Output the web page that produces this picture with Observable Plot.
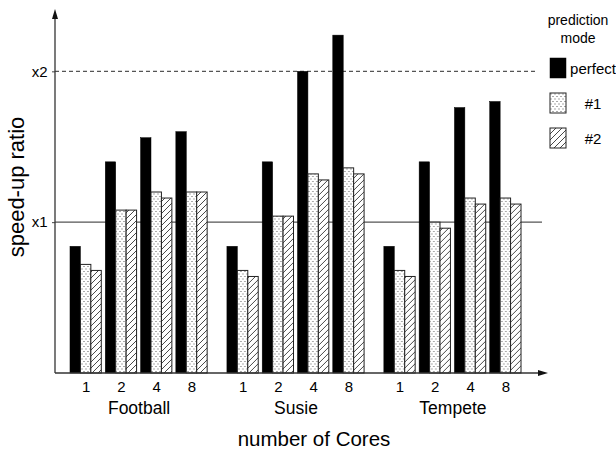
<!DOCTYPE html>
<html><head><meta charset="utf-8">
<script src="https://cdn.jsdelivr.net/npm/d3@7"></script>
<script src="https://cdn.jsdelivr.net/npm/@observablehq/plot@0.6"></script>
<style>body{margin:0;background:#fff}</style>
</head><body><div id="chart"></div>
<script>
const datasets = ["Football", "Susie", "Tempete"];
const cores = ["1", "2", "4", "8"];
const modes = ["perfect", "#1", "#2"];
// values per dataset, cores 1,2,4,8
const perfect = [0.84, 1.40, 1.56, 1.60,  0.84, 1.40, 2.00, 2.24,  0.84, 1.40, 1.76, 1.80];
const mode1   = [0.72, 1.08, 1.20, 1.20,  0.68, 1.04, 1.32, 1.36,  0.68, 1.00, 1.16, 1.16];
const mode2   = [0.68, 1.08, 1.16, 1.20,  0.64, 1.04, 1.28, 1.32,  0.64, 0.96, 1.12, 1.12];
const yTicks = [1, 2];
const yTickLabels = ["x1", "x2"];
const xLabel = "number of Cores";
const yLabel = "speed-up ratio";
const legendTitle = ["prediction", "mode"];

const FONT = "'Liberation Sans', Arial, Helvetica, sans-serif";
const series = [perfect, mode1, mode2];
const modeFill = ["black", "url(#dots)", "url(#hatch)"];
const rows = [];
datasets.forEach((ds, i) => cores.forEach((c, j) => modes.forEach((m, k) => {
  rows.push({dataset: ds, core: c, mode: m, value: series[k][i * 4 + j]});
})));

const W = 616, H = 451, ML = 55, MR = 80, MT = 11, MB = 78;

function build(bw, off) {
  return Plot.plot({
    width: W, height: H,
    marginLeft: ML, marginRight: MR, marginTop: MT, marginBottom: MB,
    style: {fontFamily: FONT, background: "white", color: "black", overflow: "visible"},
    fx: {domain: datasets, paddingInner: 0.126, paddingOuter: 0.0955, round: false, label: null},
    x: {domain: cores, paddingInner: 0.113, paddingOuter: 0, round: false, label: null},
    y: {domain: [0, 2.4], axis: null, label: null},
    marks: [
      ...modes.map((m, k) => Plot.barY(rows.filter(d => d.mode === m), {
        fx: "dataset", x: "core", y: "value",
        fill: modeFill[k],
        stroke: k === 0 ? "black" : "#222",
        strokeWidth: k === 0 ? 0.5 : 1,
        insetLeft: k * bw / 3,
        insetRight: (2 - k) * bw / 3
      })),
      Plot.axisX({anchor: "bottom", tickSize: 0, tickPadding: 8, fontSize: 15, label: null}),
      Plot.axisFx({anchor: "bottom", tickSize: 0, tickPadding: 28, fontSize: 17.5, label: null}),
      Plot.axisY({anchor: "left", ticks: yTicks, tickFormat: (d) => yTickLabels[yTicks.indexOf(d)],
        tickSize: 3, tickPadding: 5, fontSize: 15, dx: -off, stroke: "#444", label: null})
    ]
  });
}

// first pass to read the band widths
const probe = build(0, 0);
const bw = probe.scale("x").bandwidth;
const off = probe.scale("fx").apply(datasets[0]) - ML;
const plot = build(bw, off);
document.getElementById("chart").appendChild(plot);

const svg = d3.select(plot);
const sy = plot.scale("y");
const y0 = sy.apply(0);

// patterns
const defs = svg.insert("defs", ":first-child");
const pd = defs.append("pattern").attr("id", "dots").attr("patternUnits", "userSpaceOnUse")
  .attr("width", 4).attr("height", 5);
pd.append("rect").attr("width", 4).attr("height", 5).attr("fill", "white");
pd.append("rect").attr("x", 0.5).attr("y", 1).attr("width", 1).attr("height", 1).attr("fill", "#555");
pd.append("rect").attr("x", 2.5).attr("y", 3.5).attr("width", 1).attr("height", 1).attr("fill", "#555");
const ph = defs.append("pattern").attr("id", "hatch").attr("patternUnits", "userSpaceOnUse")
  .attr("width", 6).attr("height", 6);
ph.append("rect").attr("width", 6).attr("height", 6).attr("fill", "white");
ph.append("path").attr("d", "M0,6L6,0M-1,1L1,-1M5,7L7,5").attr("stroke", "#333").attr("stroke-width", 0.9);

// reference lines behind bars
const back = svg.insert("g", "g");
back.append("line").attr("x1", ML).attr("x2", 542).attr("y1", sy.apply(yTicks[0])).attr("y2", sy.apply(yTicks[0]))
  .attr("stroke", "#555").attr("stroke-width", 1.3);
back.append("line").attr("x1", ML).attr("x2", 538).attr("y1", sy.apply(yTicks[1])).attr("y2", sy.apply(yTicks[1]))
  .attr("stroke", "#555").attr("stroke-width", 1.2).attr("stroke-dasharray", "4,3");

// axes with arrows
const ax = svg.append("g").attr("stroke", "#333").attr("fill", "#111");
ax.append("line").attr("x1", ML).attr("x2", ML).attr("y1", y0).attr("y2", 16).attr("stroke-width", 1.3);
ax.append("path").attr("d", `M${ML},9L${ML - 3},19L${ML + 3},19Z`).attr("stroke", "none");
ax.append("line").attr("x1", ML).attr("x2", 540).attr("y1", y0).attr("y2", y0).attr("stroke-width", 1.3);
ax.append("path").attr("d", `M548,${y0}L538,${y0 - 3}L538,${y0 + 3}Z`).attr("stroke", "none");

// axis titles
svg.append("text").attr("transform", "translate(18,187) rotate(-90)")
  .attr("text-anchor", "middle").attr("dominant-baseline", "middle")
  .attr("font-size", 22).attr("font-family", FONT).attr("fill", "black").text(yLabel);
svg.append("text").attr("x", 314).attr("y", 446)
  .attr("text-anchor", "middle").attr("font-size", 20.5).attr("font-family", FONT).attr("fill", "black").text(xLabel);

// legend
const lg = svg.append("g").attr("font-family", FONT).attr("fill", "black");
legendTitle.forEach((t, i) => lg.append("text").attr("x", 578).attr("y", 25 + 18 * i)
  .attr("text-anchor", "middle").attr("font-size", 14).text(t));
modes.forEach((m, k) => {
  lg.append("rect").attr("x", 550).attr("y", 58 + 35 * k).attr("width", 16).attr("height", 20)
    .attr("fill", modeFill[k]).attr("stroke", k === 0 ? "black" : "#222").attr("stroke-width", k === 0 ? 0.5 : 1);
  lg.append("text").attr("x", 593).attr("y", 74 + 35 * k).attr("text-anchor", "middle")
    .attr("font-size", 15).text(m);
});
</script>
</body></html>
